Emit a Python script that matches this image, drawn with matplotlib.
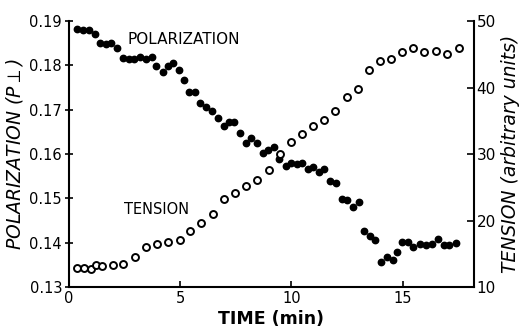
import matplotlib
matplotlib.use("Agg")
import matplotlib.pyplot as plt

# Polarization (filled circles)
pol_time = [0.37, 0.64, 0.91, 1.17, 1.39, 1.65, 1.88, 2.17, 2.43, 2.69, 2.93, 3.18, 3.44, 3.71,
            3.93, 4.23, 4.45, 4.68, 4.96, 5.17, 5.39, 5.67, 5.91, 6.16, 6.43, 6.70, 6.96, 7.19,
            7.40, 7.70, 7.95, 8.19, 8.45, 8.70, 8.94, 9.22, 9.46, 9.74, 9.97, 10.24, 10.48, 10.73,
            10.96, 11.22, 11.45, 11.75, 12.00, 12.27, 12.52, 12.78, 13.02, 13.27, 13.52, 13.78,
            14.02, 14.30, 14.56, 14.77, 14.99, 15.26, 15.48, 15.79, 16.05, 16.32, 16.61, 16.84,
            17.09, 17.40]
pol_value = [0.1882, 0.1881, 0.1881, 0.1872, 0.1850, 0.1849, 0.1851, 0.1839, 0.1816, 0.1815,
             0.1815, 0.1818, 0.1814, 0.1818, 0.1799, 0.1786, 0.1799, 0.1805, 0.1789, 0.1767,
             0.1740, 0.1740, 0.1715, 0.1707, 0.1698, 0.1681, 0.1664, 0.1672, 0.1672, 0.1647,
             0.1625, 0.1636, 0.1625, 0.1602, 0.1610, 0.1615, 0.1590, 0.1573, 0.1581, 0.1578,
             0.1581, 0.1566, 0.1570, 0.1560, 0.1566, 0.1540, 0.1535, 0.1498, 0.1496, 0.1480,
             0.1491, 0.1427, 0.1416, 0.1406, 0.1357, 0.1367, 0.1362, 0.1380, 0.1401, 0.1402,
             0.1390, 0.1397, 0.1396, 0.1397, 0.1408, 0.1395, 0.1396, 0.1399]

# Tension (open circles)
ten_time = [0.37, 0.67, 0.97, 1.22, 1.49, 1.96, 2.43, 2.96, 3.45, 3.96, 4.45, 4.98, 5.46, 5.95,
            6.46, 6.96, 7.47, 7.96, 8.46, 8.97, 9.49, 9.99, 10.48, 10.97, 11.45, 11.97, 12.50,
            12.98, 13.48, 13.97, 14.50, 14.99, 15.48, 15.96, 16.48, 17.00, 17.53]
ten_value = [12.9, 12.9, 12.7, 13.3, 13.2, 13.3, 13.45, 14.46, 15.96, 16.41, 16.71, 17.06,
             18.44, 19.71, 20.93, 23.32, 24.22, 25.21, 26.13, 27.64, 30.05, 31.89, 33.03,
             34.20, 35.15, 36.55, 38.56, 39.80, 42.58, 44.05, 44.23, 45.32, 45.92, 45.32,
             45.44, 45.05, 45.99]

x_ticks = [0, 5, 10, 15]
pol_ticks = [0.13, 0.14, 0.15, 0.16, 0.17, 0.18, 0.19]
pol_ticklabels = ["0.13", "0.14", "0.15", "0.16", "0.17", "0.18", "0.19"]
ten_ticks = [10, 20, 30, 40, 50]

fig = plt.figure(figsize=(5.27, 3.35), dpi=100)
ax = fig.add_axes([0.131, 0.143, 0.768, 0.794])
ax2 = ax.twinx()

ax.plot(pol_time, pol_value, 'o', color='black', markersize=4.6, zorder=3)
ax2.plot(ten_time, ten_value, 'o', markerfacecolor='white', markeredgecolor='black',
         markeredgewidth=1.4, markersize=5.0, zorder=3)

ax.set_xlim(0, 18.2)
ax.set_ylim(0.13, 0.19)
ax2.set_ylim(10, 50)

ax.set_xticks(x_ticks)
ax.set_yticks(pol_ticks)
ax.set_yticklabels(pol_ticklabels)
ax2.set_yticks(ten_ticks)

for a in (ax, ax2):
    a.spines['top'].set_visible(False)
    for s in a.spines.values():
        s.set_linewidth(1.5)
ax.spines['right'].set_visible(False)
ax2.spines['left'].set_visible(False)
ax2.spines['bottom'].set_visible(False)

ax.tick_params(axis='both', direction='in', length=4, width=1.2, labelsize=10.5, pad=3)
ax.tick_params(axis='y', direction='inout', length=6, pad=2)
ax2.tick_params(axis='y', direction='in', length=5, width=1.2, labelsize=11, pad=2)

ax.set_xlabel("TIME (min)", fontsize=12.5, fontweight='bold', labelpad=3)
ax.set_ylabel("POLARIZATION (P$\\perp$)", fontsize=13.5, style='italic', labelpad=3)
ax2.set_ylabel("TENSION (arbitrary units)", fontsize=13.5, style='italic', rotation=90, labelpad=4)

ax.text(2.65, 0.1859, "POLARIZATION", fontsize=11, va='center', ha='left')
ax.text(2.47, 0.1474, "TENSION", fontsize=10.5, va='center', ha='left')

fig.savefig("out.png", dpi=100)
